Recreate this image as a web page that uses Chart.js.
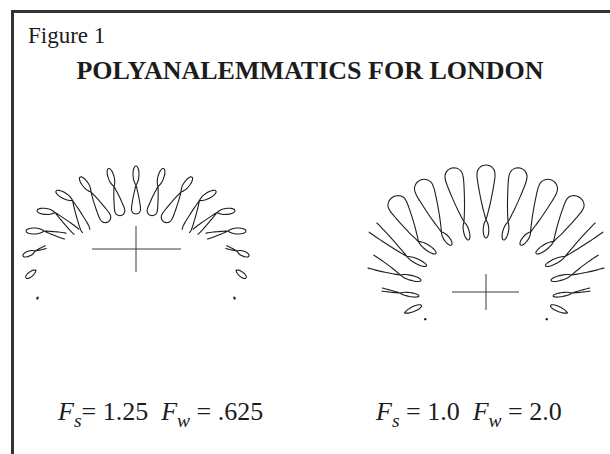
<!DOCTYPE html>
<html lang="en">
<head>
<meta charset="UTF-8">
<title>Polyanalemmatics for London</title>
<script src="https://cdn.jsdelivr.net/npm/chart.js"></script>
<style>
  html, body { margin: 0; padding: 0; background: #fff; }
  body { width: 610px; height: 454px; position: relative; overflow: hidden;
         font-family: "Liberation Serif", "Times New Roman", serif; color: #1c1c1c; }
  .frame { position: absolute; left: 11px; top: 10px; width: 700px; height: 600px;
           border-left: 3px solid #333; border-top: 3px solid #333; }
  .txt { position: absolute; line-height: 1; white-space: nowrap; }
  .fig { left: 28px; top: 24px; font-size: 23px; }
  .title { left: 0; width: 620px; text-align: center; top: 58px; font-size: 26px; font-weight: bold; }
  .label { top: 399px; font-size: 26px; }
  .label sub { font-size: 0.75em; vertical-align: -0.35em; line-height: 0; }
  canvas { position: absolute; }
</style>
</head>
<body>
  <div class="frame"></div>
  <div class="txt fig">Figure 1</div>
  <div class="txt title">POLYANALEMMATICS FOR LONDON</div>

  <canvas id="dialLeft" width="290" height="200" style="left:0px;top:130px;width:290px;height:200px"></canvas>
  <canvas id="dialRight" width="290" height="200" style="left:320px;top:130px;width:290px;height:200px"></canvas>

  <div class="txt label" style="left:58px"><i>F</i><sub><i>s</i></sub>= 1.25&nbsp; <i>F</i><sub><i>w</i></sub> = .625</div>
  <div class="txt label" style="left:376px"><i>F</i><sub><i>s</i></sub> = 1.0&nbsp; <i>F</i><sub><i>w</i></sub> = 2.0</div>

<script>
// one loop per hour of apparent solar time
const hours = [4, 5, 6, 7, 8, 9, 10, 11, 12, 13, 14, 15, 16, 17, 18, 19, 20];

// dial units, origin at the cross, y up
// left dial: Fs = 1.25, Fw = .625 (small summer lobe outside)
const leftSmallTip = [[-99,-50],[-110,-29],[-113,-7],[-110,18],[-99,38.5],[-80,58],[-56,72],[-27.5,80.5],[0,83],
                      [27.5,80.5],[56,72],[80,58],[99,38.5],[110,18],[113,-7],[110,-29],[99,-50]];
const leftCrossing = [[-98,-48],[-100,-21],[-101,-2],[-92,18],[-81,36.5],[-63.5,48.5],[-45,57],[-22,62.5],[0,64],
                      [22,62.5],[45,57],[63.5,48.5],[81,36.5],[92,18],[101,-2],[100,-21],[98,-48]];
const leftBigTip = [[-97,-46],[-90,-13],[-87,3],[-67,12],[-56,14],[-48.5,15],[-28,27],[-15,33.5],[0,35],
                    [15,33.5],[28,27],[48.5,15],[56,14],[67,12],[87,3],[90,-13],[97,-46]];
const leftSmallHalf = [0.6, 2.5, 2.5, 3, 3, 3, 3, 3, 3, 3, 3, 3, 3, 3, 2.5, 2.5, 0.6];
const leftBigHalf = [0, 0, 1.5, 3, 3.5, 4.5, 5.5, 5, 4.5, 5, 5.5, 4.5, 3.5, 3, 1.5, 0, 0];
const leftBigCut = [0, 0, 0.85, 0.9, 0.9, 0.94, 1, 1, 1, 1, 1, 0.94, 0.9, 0.9, 0.85, 0, 0];
const leftCross = { x: [-44, 45], y: [-23, 23] };

// right dial: Fs = 1.0, Fw = 2.0 (big winter lobe outside)
const rightSmallTip = [[-60,-27],[-64.5,-13.5],[-67,-4],[-65,11.5],[-59.5,26],[-50,38.5],[-34.5,47],[-17.5,52],[0,54],
                       [17.5,52],[34.5,47],[50,38.5],[59.5,26],[65,11.5],[67,-4],[64.5,-13.5],[60,-27]];
const rightCrossing = [[-61.5,-27.5],[-81.5,-21],[-86,-1],[-85.5,17],[-79,35.5],[-67.5,50.5],[-44.5,60],[-22,70],[0,72],
                       [22,70],[44.5,60],[67.5,50.5],[79,35.5],[85.5,17],[86,-1],[81.5,-21],[61.5,-27.5]];
const rightBigTip = [[-63,-28],[-95,-25],[-107,3],[-123,34],[-122,72],[-93,95],[-65.5,112],[-34,124],[0,127],
                     [34,124],[65.5,112],[93,95],[122,72],[123,34],[107,3],[95,-25],[63,-28]];
const rightSmallHalf = [0.6, 2.5, 2, 2.5, 2.5, 2.8, 2.8, 2.8, 2.8, 2.8, 2.8, 2.8, 2.5, 2.5, 2, 2.5, 0.6];
const rightBigHalf = [0, 0, 1.5, 7, 6, 9.5, 9.5, 9, 9, 9, 9.5, 9.5, 6, 7, 1.5, 0, 0];
const rightBigCut = [0, 0, 0.87, 0.83, 0.83, 1, 1, 1, 1, 1, 1, 1, 0.83, 0.83, 0.87, 0, 0];
const rightCross = { x: [-34, 33], y: [-18, 18] };

// lobe outline: position along the lobe (crossing = 0, tip = 1) and relative half-width
const lobeAlong = [0, 0.06, 0.14, 0.25, 0.37, 0.5, 0.62, 0.72, 0.8, 0.87, 0.92, 0.96, 0.985, 1];
const bigLobeWidth = [0, 0.1, 0.23, 0.4, 0.56, 0.72, 0.85, 0.95, 1, 0.98, 0.86, 0.65, 0.41, 0];
const smallLobeWidth = [0, 0.25, 0.5, 0.75, 0.9, 0.98, 0.99, 0.94, 0.85, 0.72, 0.58, 0.42, 0.26, 0];

const ink = '#1e1e1e';

function lobePoint(from, to, half, s, w, side) {
  const dx = to[0] - from[0], dy = to[1] - from[1];
  const len = Math.hypot(dx, dy) || 1;
  const nx = -dy / len, ny = dx / len;
  return { x: from[0] + dx * s + nx * w * half * side,
           y: from[1] + dy * s + ny * w * half * side };
}

// figure-eight: down one side of the small lobe, across at the crossing,
// round the big lobe (cut short where the sun is down) and back up the small lobe
function loopPoints(S, X, B, ws, wb, cut) {
  const pts = [];
  const n = lobeAlong.length;
  for (let i = n - 1; i >= 0; i--) pts.push(lobePoint(X, S, ws, lobeAlong[i], smallLobeWidth[i], 1));
  if (cut > 0) {
    for (let i = 1; i < n; i++) {
      if (lobeAlong[i] > cut) break;
      pts.push(lobePoint(X, B, wb, lobeAlong[i], bigLobeWidth[i], 1));
    }
    if (cut < 1) pts.push({ x: null, y: null });
    for (let i = n - 1; i >= 0; i--) {
      if (lobeAlong[i] > cut) continue;
      if (cut >= 1 && i === n - 1) continue;
      pts.push(lobePoint(X, B, wb, lobeAlong[i], bigLobeWidth[i], -1));
    }
  }
  for (let i = 1; i < n; i++) pts.push(lobePoint(X, S, ws, lobeAlong[i], smallLobeWidth[i], -1));
  return pts;
}

function drawDial(id, smallTip, crossing, bigTip, smallHalf, bigHalf, bigCut, cross, xMin, yMax) {
  const canvas = document.getElementById(id);
  const datasets = hours.map((h, i) => ({
    label: h + 'h',
    data: loopPoints(smallTip[i], crossing[i], bigTip[i], smallHalf[i], bigHalf[i], bigCut[i]),
    showLine: true,
    borderColor: ink,
    borderWidth: 1.1,
    pointRadius: 0,
    tension: 0.3,
    spanGaps: false
  }));
  datasets.push({
    label: 'cross',
    data: [{ x: cross.x[0], y: 0 }, { x: cross.x[1], y: 0 }, { x: null, y: null },
           { x: 0, y: cross.y[0] }, { x: 0, y: cross.y[1] }],
    showLine: true,
    borderColor: '#3a3a3a',
    borderWidth: 1,
    pointRadius: 0,
    spanGaps: false
  });
  new Chart(canvas, {
    type: 'scatter',
    data: { datasets: datasets },
    options: {
      responsive: false,
      animation: false,
      devicePixelRatio: 1,
      events: [],
      layout: { padding: 0 },
      plugins: { legend: { display: false }, tooltip: { enabled: false } },
      scales: {
        x: { type: 'linear', display: false, min: xMin, max: xMin + canvas.width },
        y: { type: 'linear', display: false, min: yMax - canvas.height, max: yMax }
      }
    }
  });
}

drawDial('dialLeft', leftSmallTip, leftCrossing, leftBigTip, leftSmallHalf, leftBigHalf, leftBigCut, leftCross, -136, 119);
drawDial('dialRight', rightSmallTip, rightCrossing, rightBigTip, rightSmallHalf, rightBigHalf, rightBigCut, rightCross, -166, 162);
</script>
</body>
</html>
